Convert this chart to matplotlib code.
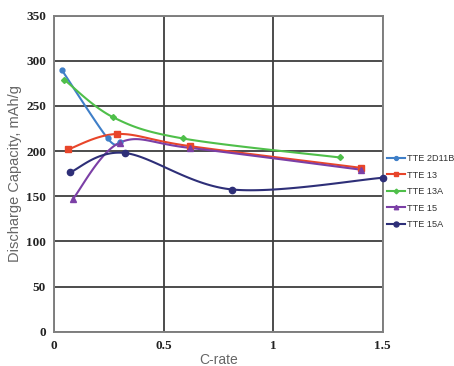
import numpy as np
import matplotlib
matplotlib.use("Agg")
import matplotlib.pyplot as plt

series_names = ["TTE 2D11B", "TTE 13", "TTE 13A", "TTE 15", "TTE 15A"]
x_2d11b = [0.034, 0.244, 0.30]
y_2d11b = [290, 214, 210]
x_13 = [0.064, 0.288, 0.620, 1.40]
y_13 = [202, 219, 205.5, 181.5]
x_13a = [0.046, 0.269, 0.588, 1.303]
y_13a = [279, 237.5, 214, 193]
x_15 = [0.085, 0.30, 0.621, 1.399]
y_15 = [147, 209.5, 203.5, 179.5]
x_15a = [0.072, 0.321, 0.813, 1.50]
y_15a = [176.5, 198, 157.5, 170.5]

colors = ["#3f7fc8", "#e8452a", "#4fbf4a", "#7b3fa6", "#2e2f78"]
markers = ["o", "s", "D", "^", "o"]
msizes = [3.5, 4, 3, 4, 4.5]

xs = [x_2d11b, x_13, x_13a, x_15, x_15a]
ys = [y_2d11b, y_13, y_13a, y_15, y_15a]

XMAX, YMAX = 1.5, 350
SX, SY = 329.0, 316.0


def smooth(x, y, n=40):
    px = np.array(x) / XMAX * SX
    py = np.array(y) / YMAX * SY
    P = np.column_stack([px, py])
    m = len(P)
    out = [P[0]]
    for i in range(m - 1):
        p0 = P[i - 1] if i > 0 else P[i]
        p1 = P[i]
        p2 = P[i + 1]
        p3 = P[i + 2] if i + 2 < m else P[i + 1]
        c1 = p1 + (p2 - p0) / 6.0
        c2 = p2 - (p3 - p1) / 6.0
        t = np.linspace(0, 1, n)[1:, None]
        b = ((1 - t) ** 3) * p1 + 3 * ((1 - t) ** 2) * t * c1 + 3 * (1 - t) * t ** 2 * c2 + t ** 3 * p2
        out.extend(b)
    out = np.array(out)
    return out[:, 0] / SX * XMAX, out[:, 1] / SY * YMAX


fig = plt.figure(figsize=(4.54, 3.66), dpi=100)
ax = fig.add_axes([54.3 / 454, (366 - 331.7) / 366, (382.7 - 54.3) / 454, (331.7 - 15.7) / 366])

for name, x, y, c, mk, ms in zip(series_names, xs, ys, colors, markers, msizes):
    sx, sy = smooth(x, y)
    ax.plot(sx, sy, color=c, lw=1.5, zorder=3)
    ax.plot(x, y, linestyle="none", marker=mk, color=c, ms=ms, zorder=4, clip_on=False)
    ax.plot([], [], color=c, lw=1.5, marker=mk, ms=ms * 0.8, label=name)

ax.set_xlim(0, XMAX)
ax.set_ylim(0, YMAX)
ax.set_xticks([0, 0.5, 1, 1.5])
ax.set_xticklabels(["0", "0.5", "1", "1.5"])
ax.set_yticks(np.arange(0, 351, 50))
ax.grid(True, color="#3e3e3e", lw=1.3)
ax.set_axisbelow(True)
for s in ax.spines.values():
    s.set_color("#808080")
    s.set_linewidth(1.4)
ax.tick_params(length=0, pad=6)
for lab in ax.get_xticklabels() + ax.get_yticklabels():
    lab.set_family("Liberation Serif")
    lab.set_fontweight("bold")
    lab.set_fontsize(9.5)
    lab.set_color("#222222")

ax.set_xlabel("C-rate", fontsize=10, color="#666666", labelpad=1, family="Liberation Sans")
ax.set_ylabel("Discharge Capacity, mAh/g", fontsize=10.5, color="#666666", labelpad=3, family="Liberation Sans")

leg = ax.legend(loc="upper left", bbox_to_anchor=(387 / 454, (366 - 154) / 366), bbox_transform=fig.transFigure,
                frameon=False, fontsize=6.6, handlelength=2.0, handletextpad=0.2, labelspacing=0.82,
                borderaxespad=0, borderpad=0)
for t in leg.get_texts():
    t.set_color("#333333")
    t.set_family("Liberation Sans")

fig.savefig("out.png", dpi=100)
